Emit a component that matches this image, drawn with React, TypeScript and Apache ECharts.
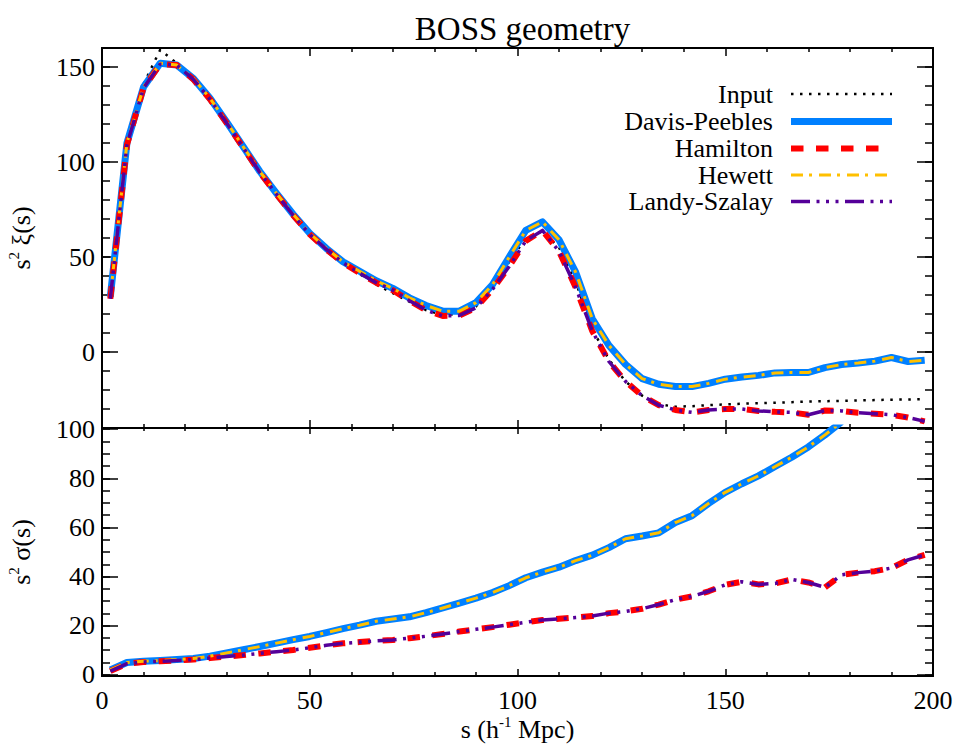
import React, { useEffect, useRef } from 'react';
import * as echarts from 'echarts';

// separation s (h^-1 Mpc), bin centres
const sBins = [2, 6, 10, 14, 18, 22, 26, 30, 34, 38, 42, 46, 50, 54, 58, 62, 66, 70, 74, 78, 82, 86, 90, 94, 98,
  102, 106, 110, 114, 118, 122, 126, 130, 134, 138, 142, 146, 150, 154, 158, 162, 166, 170, 174, 178, 182, 186, 190, 194, 198];

// top panel: s^2 xi(s)
const inputXi = [29, 110, 141, 159, 152, 143, 133, 120.5, 107.5, 94.5, 83, 72, 62, 54, 46.5, 41, 35.5, 31, 26.5, 22, 19.5, 20, 24, 34, 47.5,
  60, 63.5, 55, 37, 12, -4, -15.5, -23, -27.5, -28.8, -28.5, -28, -27.6, -27.2, -27, -26.7, -26.4, -26.1, -25.9, -25.7, -25.5, -25.3, -25.1, -25, -24.8];
const davisPeeblesXi = [29, 110, 139.5, 152, 151, 144, 133.5, 121, 108, 95, 83.5, 72.5, 62.5, 54.5, 47.5, 42.5, 37.5, 33.5, 28.5, 24.5, 21.5, 21.5, 26, 35.5, 50,
  64, 68.5, 59, 42, 17.5, 3.5, -6.5, -14, -17, -18.2, -18.2, -16.5, -14.3, -13.2, -12.3, -11, -10.8, -10.8, -8.2, -6.6, -5.8, -4.8, -2.9, -5, -4.3];
const hamiltonXi = [28, 109, 139, 151.5, 151, 143.5, 133, 120.5, 107.5, 94.5, 83, 72, 62, 54, 47, 41.5, 36.5, 32.5, 27, 22, 19, 19.2, 23.3, 33, 45,
  58.5, 64, 53, 34, 11, -5, -15.5, -23, -28, -30.5, -31.8, -30.5, -30, -30, -31, -31.5, -31.8, -33, -30.8, -31, -32, -32.5, -33, -34.5, -36.5];
const hewettXi = davisPeeblesXi;
const landySzalayXi = hamiltonXi;

// bottom panel: s^2 sigma(s)
const davisPeeblesSigma = [2, 5, 5.5, 5.8, 6.2, 6.6, 7.6, 8.9, 10.2, 11.5, 12.9, 14.3, 15.6, 17.2, 18.8, 20.2, 21.8, 22.7, 23.6, 25.3, 27.2, 29.2, 31.2, 33.5, 36.3,
  39.5, 41.8, 43.8, 46.5, 48.7, 51.8, 55.4, 56.5, 57.8, 62, 64.8, 69.8, 74.3, 77.8, 81, 84.8, 88.6, 92.8, 97.7, 103];
const hamiltonSigma = [1.5, 4.5, 5.2, 5.5, 5.8, 6.2, 6.8, 7.4, 8, 8.7, 9.4, 10.1, 11, 12, 12.8, 13.3, 13.8, 14.2, 14.9, 15.7, 16.6, 17.6, 18.5, 19.4, 20.4,
  21.4, 22.3, 22.8, 23.3, 23.9, 25.1, 25.8, 26.9, 28.6, 30.6, 31.9, 34, 36.6, 37.9, 36.8, 37.2, 38.8, 37.6, 35.6, 40.7, 41.6, 42.2, 43.5, 46.8, 48.8];
const hewettSigma = davisPeeblesSigma;
const landySzalaySigma = hamiltonSigma;

// ticks
const xiMajorTicks = [0, 50, 100, 150];
const xiMinorTicks = [-40, -30, -20, -10, 0, 10, 20, 30, 40, 50, 60, 70, 80, 90, 100, 110, 120, 130, 140, 150, 160];
const sigmaMajorTicks = [0, 20, 40, 60, 80, 100];
const sigmaMinorTicks = [0, 5, 10, 15, 20, 25, 30, 35, 40, 45, 50, 55, 60, 65, 70, 75, 80, 85, 90, 95, 100];

const FAMILY = '"Liberation Serif", "Times New Roman", Times, serif';

const styles = {
  Input: { color: '#000000', width: 2.5, dash: [2.5, 6.5] as any, legendEnd: 892 },
  'Davis-Peebles': { color: '#0080FF', width: 7, dash: 'solid' as any, legendEnd: 892 },
  Hamilton: { color: '#FF0000', width: 6, dash: [12.5, 12.5] as any, legendEnd: 879 },
  Hewett: { color: '#FFC000', width: 3, dash: [12, 6, 3, 7] as any, legendEnd: 889 },
  'Landy-Szalay': { color: '#550099', width: 3.5, dash: [19, 6.5, 3, 6.5, 3, 6.5, 3, 6.5] as any, legendEnd: 892 },
};
const legendOrder = ['Input', 'Davis-Peebles', 'Hamilton', 'Hewett', 'Landy-Szalay'];

function pairs(vals: number[]) {
  return vals.map((v, i) => [sBins[i], v]);
}

export default function App() {
  const ref = useRef<HTMLDivElement>(null);
  useEffect(() => {
    const chart = echarts.init(ref.current!, null, { renderer: 'svg' });

    const mkX = (gridIndex: number, position: string, showLabel: boolean, major: number, minor: number) => ({
      type: 'value', gridIndex, position, min: 0, max: 200, interval: 50,
      axisLine: { show: true, onZero: false, lineStyle: { color: '#000', width: 2 } },
      axisTick: { show: true, inside: true, length: major, lineStyle: { color: '#000', width: 1.5 } },
      minorTick: { show: true, splitNumber: 5, length: minor, lineStyle: { color: '#000', width: 1.5 } },
      splitLine: { show: false },
      minorSplitLine: { show: false },
      axisLabel: { show: showLabel, color: '#000', fontFamily: FAMILY, fontSize: 26, margin: 11 },
    });
    const mkY = (gridIndex: number, position: string, min: number, max: number, ticks: number[], len: number, showLabel: boolean) => ({
      type: 'value', gridIndex, position, min, max,
      axisLine: { show: true, onZero: false, lineStyle: { color: '#000', width: 2 } },
      axisTick: { show: true, inside: true, length: len, customValues: ticks, lineStyle: { color: '#000', width: 1.5 } },
      axisLabel: { show: showLabel, customValues: ticks, color: '#000', fontFamily: FAMILY, fontSize: 26, margin: 7 },
      splitLine: { show: false },
    });

    const line = (name: string, data: any[], xi: number, yi: number) => {
      const st = (styles as any)[name];
      return {
        type: 'line', name, data, xAxisIndex: xi, yAxisIndex: yi,
        symbol: 'none', showSymbol: false, silent: true, clip: true,
        lineStyle: { color: st.color, width: st.width, type: st.dash, cap: 'butt', join: 'round' },
      };
    };

    const legendRowsY = [94, 121.5, 148.5, 175, 201.5];
    const legendGraphics: any[] = [];
    legendOrder.forEach((name, i) => {
      const st = (styles as any)[name];
      legendGraphics.push({
        type: 'text', x: 773, y: legendRowsY[i], silent: true,
        style: { text: name, fill: '#000', font: `26px ${FAMILY}`, fontSize: 26, fontFamily: FAMILY, align: 'right', verticalAlign: 'middle' },
      });
      legendGraphics.push({
        type: 'line', silent: true,
        shape: { x1: 791, y1: legendRowsY[i], x2: st.legendEnd, y2: legendRowsY[i] },
        style: { stroke: st.color, lineWidth: st.width, lineDash: Array.isArray(st.dash) ? st.dash : null, lineCap: 'butt' },
      });
    });

    const rich = {
      b: { font: `26px ${FAMILY}`, fontSize: 26, fontFamily: FAMILY, lineHeight: 30, fill: '#000' },
      sup: { font: `15px ${FAMILY}`, fontSize: 15, fontFamily: FAMILY, lineHeight: 14, verticalAlign: 'top', fill: '#000' },
    };
    const richText = (text: string, x: number, y: number, rotation: number) => ({
      type: 'text', x, y, rotation, silent: true,
      style: { text, rich, font: `26px ${FAMILY}`, fontSize: 26, fontFamily: FAMILY, align: 'center', verticalAlign: 'middle', fill: '#000' },
    });

    const option: any = {
      animation: false,
      backgroundColor: '#ffffff',
      textStyle: { fontFamily: FAMILY },
      title: {
        text: 'BOSS geometry', left: 517.5, top: 24, textAlign: 'center', textVerticalAlign: 'middle',
        textStyle: { fontFamily: FAMILY, fontSize: 33, fontWeight: 'normal', color: '#000' },
      },
      grid: [
        { left: 102, top: 48, width: 831, height: 380, outerBoundsMode: 'none', containLabel: false },
        { left: 102, top: 428, width: 831, height: 248, outerBoundsMode: 'none', containLabel: false },
      ],
      xAxis: [
        mkX(0, 'bottom', false, 8, 4),
        mkX(0, 'top', false, 8, 4),
        mkX(1, 'bottom', true, 7, 4),
        mkX(1, 'top', false, 6, 3),
      ],
      yAxis: [
        mkY(0, 'left', -40, 160, xiMajorTicks, 16, true),
        mkY(0, 'left', -40, 160, xiMinorTicks, 8, false),
        mkY(0, 'right', -40, 160, xiMajorTicks, 16, false),
        mkY(0, 'right', -40, 160, xiMinorTicks, 8, false),
        mkY(1, 'left', -0.5, 100.5, sigmaMajorTicks, 16, true),
        mkY(1, 'left', -0.5, 100.5, sigmaMinorTicks, 8, false),
        mkY(1, 'right', -0.5, 100.5, sigmaMajorTicks, 16, false),
        mkY(1, 'right', -0.5, 100.5, sigmaMinorTicks, 8, false),
      ],
      series: [
        line('Input', pairs(inputXi), 0, 0),
        line('Davis-Peebles', pairs(davisPeeblesXi), 0, 0),
        line('Hamilton', pairs(hamiltonXi), 0, 0),
        line('Hewett', pairs(hewettXi), 0, 0),
        line('Landy-Szalay', pairs(landySzalayXi), 0, 0),
        line('Davis-Peebles', pairs(davisPeeblesSigma), 2, 4),
        line('Hamilton', pairs(hamiltonSigma), 2, 4),
        line('Hewett', pairs(hewettSigma), 2, 4),
        line('Landy-Szalay', pairs(landySzalaySigma), 2, 4),
      ],
      graphic: [
        ...legendGraphics,
        richText('{b|s}{sup|2}{b| ξ(s)}', 21, 238, Math.PI / 2),
        richText('{b|s}{sup|2}{b| σ(s)}', 21, 552, Math.PI / 2),
        richText('{b|s (h}{sup|-1}{b| Mpc)}', 517.5, 729, 0),
      ],
    };
    chart.setOption(option);
    return () => chart.dispose();
  }, []);
  return <div ref={ref} style={{ position: 'fixed', left: 0, top: 0, width: 959, height: 744, background: '#fff' }} />;
}
